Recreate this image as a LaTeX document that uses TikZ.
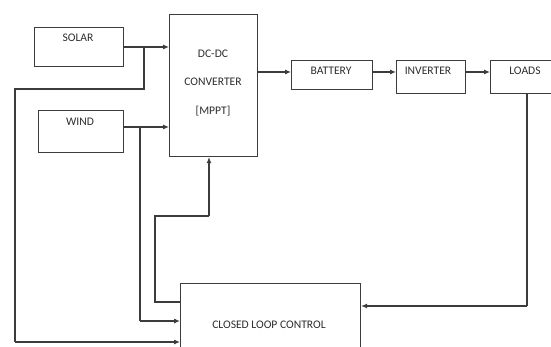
\documentclass[tikz,border=0pt]{standalone}
\usepackage{fontspec}
\setmainfont{Carlito}
\usetikzlibrary{arrows.meta,calc}
\definecolor{ln}{RGB}{60,60,60}
\definecolor{tx}{RGB}{45,45,45}
\tikzset{
  box/.style={draw=ln,line width=1.1pt,rectangle,inner sep=0pt,anchor=north west},
  lbl/.style={text=tx,font=\fontsize{11.6}{13}\selectfont,inner sep=0pt},
  wire/.style={draw=ln,line width=1.1pt},
  arr/.style={wire,-{Latex[length=6pt,width=5pt]}}
}
\begin{document}
\begin{tikzpicture}[x=1pt,y=-1pt]
\useasboundingbox (0,0) rectangle (551,347);
\clip (0,0) rectangle (551,347);
% boxes
\node[box,minimum width=89pt,minimum height=39pt] (solar) at (34,27) {};
\node[box,minimum width=85pt,minimum height=42pt] (wind) at (38,110) {};
\node[box,minimum width=88pt,minimum height=142pt] (dcdc) at (169,14) {};
\node[box,minimum width=81pt,minimum height=29pt] (battery) at (291,60) {};
\node[box,minimum width=69pt,minimum height=33pt] (inverter) at (396,60) {};
\node[box,minimum width=80pt,minimum height=33pt] (loads) at (490,60) {};
\node[box,minimum width=180pt,minimum height=90pt] (clc) at (180,283) {};
% texts
\node[lbl] (tsolar) at (78,38) {SOLAR};
\node[lbl] (twind) at (80,122) {WIND};
\node[lbl] (tdc1) at (213,54) {DC-DC};
\node[lbl] (tdc2) at (213,82) {CONVERTER};
\node[lbl] (tdc3) at (213,111) {[MPPT]};
\node[lbl] (tbat) at (331,71) {BATTERY};
\node[lbl] (tinv) at (428,71) {INVERTER};
\node[lbl] (tload) at (525,71) {LOADS};
\node[lbl] (tclc) at (269,325) {CLOSED LOOP CONTROL};
% branch coordinates
\coordinate (sb) at (144,47);
\coordinate (s1) at (144,89);
\coordinate (s2) at (15,89);
\coordinate (s3) at (15,342);
\coordinate (wb) at (140,127);
\coordinate (w1) at (140,321);
\coordinate (c1) at (155,302);
\coordinate (c2) at (155,216);
\coordinate (c3) at (209,216);
\coordinate (l1) at (527,306);
% connectors
\draw[arr] (solar.east |- sb) -- (sb -| dcdc.west);
\draw[wire] (sb) -- (s1) -- (s2) -- (s3);
\draw[arr] (s3) -- (s3 -| clc.west);
\draw[arr] (wind.east |- wb) -- (wb -| dcdc.west);
\draw[wire] (wb) -- (w1);
\draw[arr] (w1) -- (w1 -| clc.west);
\draw[wire] (c1 -| clc.west) -- (c1) -- (c2) -- (c3);
\draw[arr] (c3) -- (c3 |- dcdc.south);
\draw[arr] (dcdc.east |- 0,72) -- (battery.west |- 0,72);
\draw[arr] (battery.east |- 0,72) -- (inverter.west |- 0,72);
\draw[arr] (inverter.east |- 0,72) -- (loads.west |- 0,72);
\draw[wire] (l1 |- loads.south) -- (l1);
\draw[arr] (l1) -- (l1 -| clc.east);
\end{tikzpicture}
\end{document}
